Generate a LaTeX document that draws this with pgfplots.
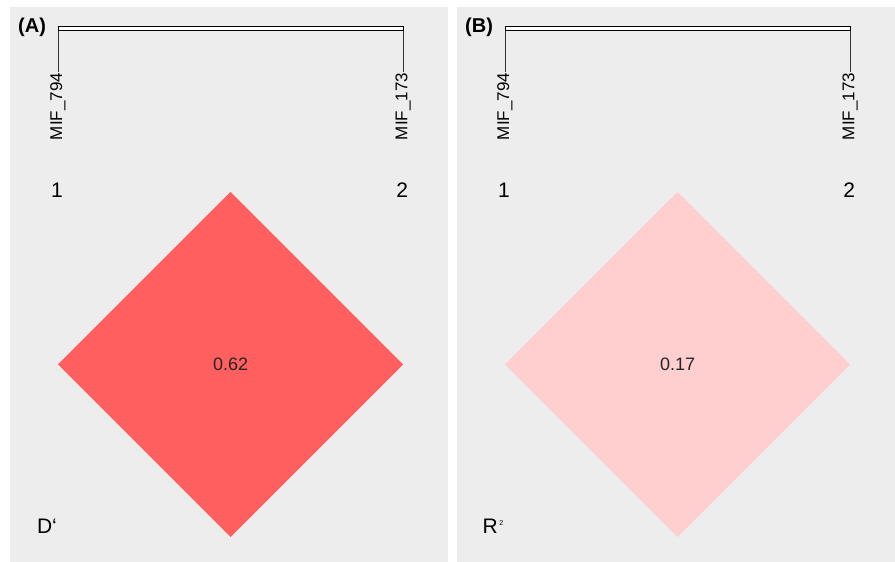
\documentclass[border=0pt]{standalone}
\usepackage{fontspec}
\setmainfont{Liberation Sans}
\usepackage{pgfplots}
\pgfplotsset{compat=1.18}
\definecolor{bg}{RGB}{237,237,237}
\definecolor{ldA}{RGB}{255,95,95}
\definecolor{ldB}{RGB}{255,206,206}
\pgfplotsset{ldpanel/.style={
  scale only axis, width=438pt, height=555pt,
  xmin=0.861, xmax=2.130, ymin=-1.0725, ymax=0.536,
  axis background/.style={fill=bg}, axis line style={draw=none},
  xtick=\empty, ytick=\empty, clip=false, anchor=south west}}
\newcommand{\ldlab}{\fontsize{17}{17}\selectfont}
\newcommand{\ldbig}{\fontsize{21}{21}\selectfont}
\begin{document}
\begin{tikzpicture}
\fill[white] (0,0) rectangle (895pt,562pt);
% Panel A
\begin{axis}[ldpanel, at={(10pt,0pt)}]
\draw[black, fill=white, line width=0.8pt] (axis cs:1,0.467) rectangle (axis cs:2,0.481);
\draw[black!80, line width=0.7pt] (axis cs:1,0.467) -- (axis cs:1,0.348);
\draw[black!80, line width=0.7pt] (axis cs:2,0.467) -- (axis cs:2,0.348);
\node[rotate=90, anchor=east, font=\ldlab, inner sep=1pt] at (axis cs:1,0.348) {MIF\_794};
\node[rotate=90, anchor=east, font=\ldlab, inner sep=1pt] at (axis cs:2,0.348) {MIF\_173};
\node[font=\ldbig] at (axis cs:0.997,0.004) {1};
\node[font=\ldbig] at (axis cs:1.997,0.004) {2};
\node[font=\bfseries\fontsize{20}{20}\selectfont] at (axis cs:0.925,0.476) {(A)};
\node[font=\ldbig] at (axis cs:0.968,-0.970) {D\symbol{96}};
\addplot[draw=none, fill=ldA] coordinates {(1.5,0) (2,-0.5) (1.5,-1) (1,-0.5)} -- cycle;
\addplot[draw=none, no markers, nodes near coords, point meta=explicit symbolic,
  every node near coord/.append style={anchor=center, font=\fontsize{18}{18}\selectfont, text=black!85}]
  coordinates {(1.5,-0.5) [0.62]};
\end{axis}
% Panel B
\begin{axis}[ldpanel, at={(457pt,0pt)}]
\draw[black, fill=white, line width=0.8pt] (axis cs:1,0.467) rectangle (axis cs:2,0.481);
\draw[black!80, line width=0.7pt] (axis cs:1,0.467) -- (axis cs:1,0.348);
\draw[black!80, line width=0.7pt] (axis cs:2,0.467) -- (axis cs:2,0.348);
\node[rotate=90, anchor=east, font=\ldlab, inner sep=1pt] at (axis cs:1,0.348) {MIF\_794};
\node[rotate=90, anchor=east, font=\ldlab, inner sep=1pt] at (axis cs:2,0.348) {MIF\_173};
\node[font=\ldbig] at (axis cs:0.997,0.004) {1};
\node[font=\ldbig] at (axis cs:1.997,0.004) {2};
\node[font=\bfseries\fontsize{20}{20}\selectfont] at (axis cs:0.925,0.476) {(B)};
\node[font=\ldbig] at (axis cs:0.965,-0.970) {R\hspace{1.5pt}\raisebox{8pt}{\fontsize{7}{7}\selectfont 2}};
\addplot[draw=none, fill=ldB] coordinates {(1.5,0) (2,-0.5) (1.5,-1) (1,-0.5)} -- cycle;
\addplot[draw=none, no markers, nodes near coords, point meta=explicit symbolic,
  every node near coord/.append style={anchor=center, font=\fontsize{18}{18}\selectfont, text=black!85}]
  coordinates {(1.5,-0.5) [0.17]};
\end{axis}
\end{tikzpicture}
\end{document}
